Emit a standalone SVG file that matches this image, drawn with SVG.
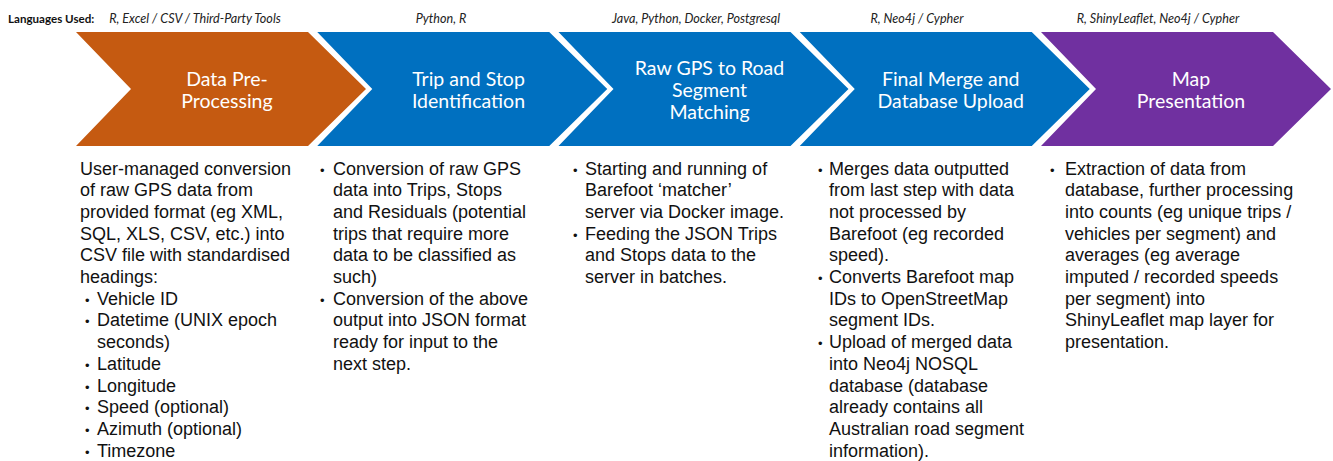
<svg xmlns="http://www.w3.org/2000/svg" width="1333" height="461" viewBox="0 0 1333 461">
  <defs>
    <!-- chevron outline: left edge at 0, top 32, bottom 146, point at 89 -->
    <polygon id="chev" points="0,32 232,32 290,89 232,146 0,146 55,89"/>
  </defs>
  <style>
    .lang { font-family: Lato, "Open Sans", sans-serif; font-style: italic; font-size: 12.6px; fill: #222; text-anchor: middle; }
    .lang-head { font-family: Lato, "Open Sans", sans-serif; font-weight: bold; font-size: 11.6px; fill: #111; }
    .title { font-family: Lato, "Open Sans", sans-serif; font-size: 19.5px; fill: #ffffff; text-anchor: middle; }
    .body { font-family: "Liberation Sans", Arial, sans-serif; font-size: 18px; fill: #111; }
    .dot { font-size: 13px; }
    .orange { fill: #C55A11; }
    .blue { fill: #0070C0; }
    .purple { fill: #7030A0; }
  </style>
  <rect width="1333" height="461" fill="#ffffff"/>

  <!-- language labels row -->
  <g id="languages">
    <text class="lang-head" x="8" y="23">Languages Used:</text>
    <text class="lang" x="195" y="23">R, Excel / CSV / Third-Party Tools</text>
    <text class="lang" x="441" y="23">Python, R</text>
    <text class="lang" x="696" y="23">Java, Python, Docker, Postgresql</text>
    <text class="lang" x="917" y="23">R, Neo4j / Cypher</text>
    <text class="lang" x="1158" y="23">R, ShinyLeaflet, Neo4j / Cypher</text>
  </g>

  <!-- step 1 -->
  <g id="step-preprocessing">
    <use href="#chev" class="orange" x="76"/>
    <text class="title" x="227" y="85.5">Data Pre-</text>
    <text class="title" x="227" y="107.5">Processing</text>
    <text class="body">
      <tspan x="80" y="174.5">User-managed conversion</tspan>
      <tspan x="80" y="196.2">of raw GPS data from</tspan>
      <tspan x="80" y="217.9">provided format (eg XML,</tspan>
      <tspan x="80" y="239.6">SQL, XLS, CSV, etc.) into</tspan>
      <tspan x="80" y="261.3">CSV file with standardised</tspan>
      <tspan x="80" y="283">headings:</tspan>
      <tspan class="dot" x="85" y="304.7">•</tspan><tspan x="97" y="304.7">Vehicle ID</tspan>
      <tspan class="dot" x="85" y="326.4">•</tspan><tspan x="97" y="326.4">Datetime (UNIX epoch</tspan>
      <tspan x="97" y="348.1">seconds)</tspan>
      <tspan class="dot" x="85" y="369.8">•</tspan><tspan x="97" y="369.8">Latitude</tspan>
      <tspan class="dot" x="85" y="391.5">•</tspan><tspan x="97" y="391.5">Longitude</tspan>
      <tspan class="dot" x="85" y="413.2">•</tspan><tspan x="97" y="413.2">Speed (optional)</tspan>
      <tspan class="dot" x="85" y="434.9">•</tspan><tspan x="97" y="434.9">Azimuth (optional)</tspan>
      <tspan class="dot" x="85" y="456.6">•</tspan><tspan x="97" y="456.6">Timezone</tspan>
    </text>
  </g>

  <!-- step 2 -->
  <g id="step-trip-stop">
    <use href="#chev" class="blue" x="317.25"/>
    <text class="title" x="468.5" y="85.5">Trip and Stop</text>
    <text class="title" x="468.5" y="107.5">Identification</text>
    <text class="body">
      <tspan class="dot" x="320" y="174.5">•</tspan><tspan x="333" y="174.5">Conversion of raw GPS</tspan>
      <tspan x="333" y="196.2">data into Trips, Stops</tspan>
      <tspan x="333" y="217.9">and Residuals (potential</tspan>
      <tspan x="333" y="239.6">trips that require more</tspan>
      <tspan x="333" y="261.3">data to be classified as</tspan>
      <tspan x="333" y="283">such)</tspan>
      <tspan class="dot" x="320" y="304.7">•</tspan><tspan x="333" y="304.7">Conversion of the above</tspan>
      <tspan x="333" y="326.4">output into JSON format</tspan>
      <tspan x="333" y="348.1">ready for input to the</tspan>
      <tspan x="333" y="369.8">next step.</tspan>
    </text>
  </g>

  <!-- step 3 -->
  <g id="step-road-matching">
    <use href="#chev" class="blue" x="558.5"/>
    <text class="title" x="709.5" y="75">Raw GPS to Road</text>
    <text class="title" x="709.5" y="97">Segment</text>
    <text class="title" x="709.5" y="119">Matching</text>
    <text class="body">
      <tspan class="dot" x="573" y="174.5">•</tspan><tspan x="585" y="174.5">Starting and running of</tspan>
      <tspan x="585" y="196.2">Barefoot ‘matcher’</tspan>
      <tspan x="585" y="217.9">server via Docker image.</tspan>
      <tspan class="dot" x="573" y="239.6">•</tspan><tspan x="585" y="239.6">Feeding the JSON Trips</tspan>
      <tspan x="585" y="261.3">and Stops data to the</tspan>
      <tspan x="585" y="283">server in batches.</tspan>
    </text>
  </g>

  <!-- step 4 -->
  <g id="step-merge-upload">
    <use href="#chev" class="blue" x="799.75"/>
    <text class="title" x="950.75" y="85.5">Final Merge and</text>
    <text class="title" x="950.75" y="107.5">Database Upload</text>
    <text class="body">
      <tspan class="dot" x="818" y="174.5">•</tspan><tspan x="829" y="174.5">Merges data outputted</tspan>
      <tspan x="829" y="196.2">from last step with data</tspan>
      <tspan x="829" y="217.9">not processed by</tspan>
      <tspan x="829" y="239.6">Barefoot (eg recorded</tspan>
      <tspan x="829" y="261.3">speed).</tspan>
      <tspan class="dot" x="818" y="283">•</tspan><tspan x="829" y="283">Converts Barefoot map</tspan>
      <tspan x="829" y="304.7">IDs to OpenStreetMap</tspan>
      <tspan x="829" y="326.4">segment IDs.</tspan>
      <tspan class="dot" x="818" y="348.1">•</tspan><tspan x="829" y="348.1">Upload of merged data</tspan>
      <tspan x="829" y="369.8">into Neo4j NOSQL</tspan>
      <tspan x="829" y="391.5">database (database</tspan>
      <tspan x="829" y="413.2">already contains all</tspan>
      <tspan x="829" y="434.9">Australian road segment</tspan>
      <tspan x="829" y="456.6">information).</tspan>
    </text>
  </g>

  <!-- step 5 -->
  <g id="step-map-presentation">
    <use href="#chev" class="purple" x="1041"/>
    <text class="title" x="1191" y="85.5">Map</text>
    <text class="title" x="1191" y="107.5">Presentation</text>
    <text class="body">
      <tspan class="dot" x="1050" y="174.5">•</tspan><tspan x="1065" y="174.5">Extraction of data from</tspan>
      <tspan x="1065" y="196.2">database, further processing</tspan>
      <tspan x="1065" y="217.9">into counts (eg unique trips /</tspan>
      <tspan x="1065" y="239.6">vehicles per segment) and</tspan>
      <tspan x="1065" y="261.3">averages (eg average</tspan>
      <tspan x="1065" y="283">imputed / recorded speeds</tspan>
      <tspan x="1065" y="304.7">per segment) into</tspan>
      <tspan x="1065" y="326.4">ShinyLeaflet map layer for</tspan>
      <tspan x="1065" y="348.1">presentation.</tspan>
    </text>
  </g>
</svg>
